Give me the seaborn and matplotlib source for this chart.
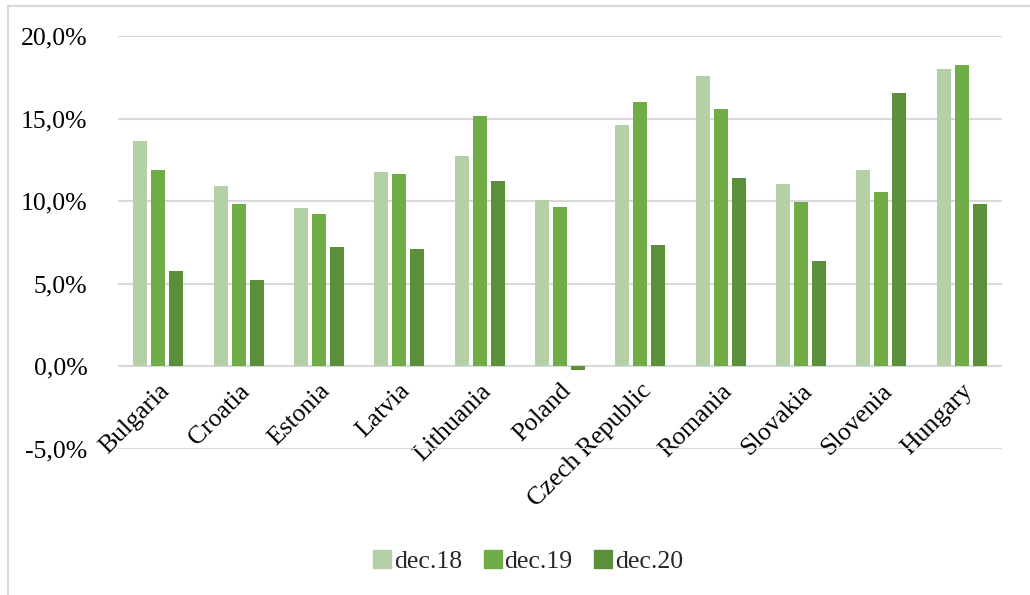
import pandas as pd
import seaborn as sns
import matplotlib.pyplot as plt
import matplotlib.patches as mpatches
from matplotlib.ticker import FuncFormatter, MultipleLocator

countries = ["Bulgaria", "Croatia", "Estonia", "Latvia", "Lithuania", "Poland",
             "Czech Republic", "Romania", "Slovakia", "Slovenia", "Hungary"]
periods = ["dec.18", "dec.19", "dec.20"]
dec18 = [13.64, 10.90, 9.58, 11.76, 12.70, 10.04, 14.59, 17.58, 11.01, 11.88, 17.98]
dec19 = [11.88, 9.80, 9.21, 11.64, 15.13, 9.62, 16.00, 15.58, 9.96, 10.53, 18.24]
dec20 = [5.78, 5.21, 7.23, 7.07, 11.19, -0.22, 7.31, 11.37, 6.34, 16.53, 9.80]
colors = ["#B5CFA7", "#70AD47", "#5B8F3A"]

df = pd.DataFrame({
    "country": countries * 3,
    "period": [periods[0]] * 11 + [periods[1]] * 11 + [periods[2]] * 11,
    "value": dec18 + dec19 + dec20,
})

sns.set_theme(style="white")
plt.rcParams['font.family'] = ['Liberation Serif', 'DejaVu Serif']

fig = plt.figure(figsize=(10.3, 5.95), dpi=100)
ax = fig.add_axes([0.1146, 0.2462, 0.8582, 0.6933])

sns.barplot(data=df, x="country", y="value", hue="period", palette=colors,
            width=0.67, saturation=1, ax=ax, legend=False)

# leave a small white gap between neighbouring bars
for p in ax.patches:
    w = p.get_width()
    p.set_x(p.get_x() + w * 0.11)
    p.set_width(w * 0.78)
    p.set_linewidth(0)

ax.set_ylim(-5, 20)
ax.yaxis.set_major_locator(MultipleLocator(5))
ax.yaxis.set_major_formatter(FuncFormatter(lambda v, pos: f"{v:.1f}%".replace('.', ',')))
ax.grid(axis='y', color='#D9D9D9', linewidth=1.5)
ax.set_axisbelow(True)
# category labels hang from the zero line, like Excel
ax.spines['bottom'].set_position(('data', 0))
for s in ax.spines.values():
    s.set_visible(False)
ax.set_xlabel("")
ax.set_ylabel("")
ax.tick_params(axis='both', length=0, labelsize=18.5, colors='black')
ax.tick_params(axis='y', pad=22)
ax.set_xlim(-0.5, len(countries) - 0.5)
plt.setp(ax.get_xticklabels(), rotation=45, ha='right', va='top',
         rotation_mode='anchor')
ax.tick_params(axis='x', pad=10)

handles = [mpatches.Patch(color=c, label=l) for c, l in zip(colors, periods)]
fig.legend(handles=handles, loc='center', bbox_to_anchor=(0.5126, 0.057), ncol=3,
           frameon=False, fontsize=18.5, handlelength=0.7, handleheight=0.7,
           handletextpad=0.1, columnspacing=0.85)

fig.add_artist(mpatches.Rectangle((8 / 1030, -0.05), 1.1, 1.05 - 6 / 595,
                                  transform=fig.transFigure, fill=False,
                                  edgecolor='#D9D9D9', linewidth=1.5))

fig.savefig("out.png", dpi=100)
